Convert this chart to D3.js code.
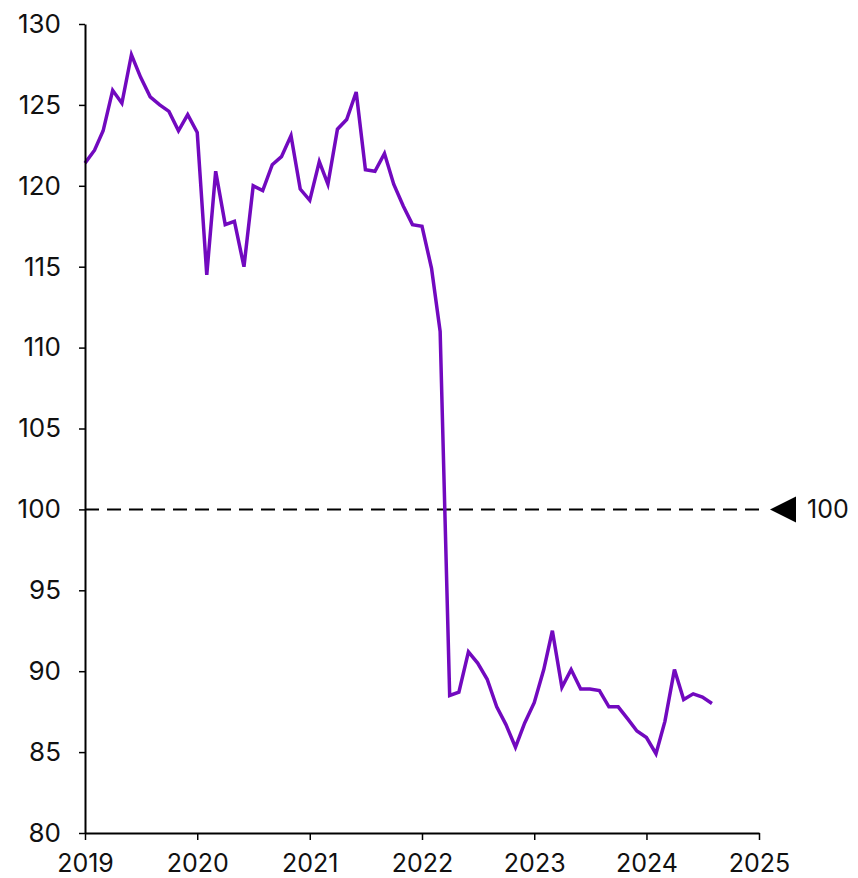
<!DOCTYPE html>
<html>
<head>
<meta charset="utf-8">
<script src="https://cdn.jsdelivr.net/npm/d3@7"></script>
<style>
  html, body { margin: 0; padding: 0; background: #fff; }
  svg { display: block; font-family: Inter, "DejaVu Sans", sans-serif; }
</style>
</head>
<body>
<svg id="chart" width="858" height="878"></svg>
<script>
// ---- Data (monthly, Jan 2019 – Aug 2024) ----
const startYear = 2019;
const startMonth = 0; // January
const values = [
  121.4, 122.2, 123.4, 125.9, 125.1, 128.1, 126.7, 125.5, 125.0, 124.6, 123.4, 124.4,
  123.3, 114.5, 120.9, 117.6, 117.8, 115.0, 120.0, 119.7, 121.3, 121.8, 123.1, 119.8,
  119.1, 121.5, 120.1, 123.5, 124.1, 125.8, 121.0, 120.9, 122.0, 120.1, 118.75, 117.6,
  117.5, 114.9, 111.0, 88.5, 88.7, 91.2, 90.5, 89.5, 87.8, 86.7, 85.3, 86.8,
  88.05, 90.1, 92.5, 89.0, 90.1, 88.9, 88.9, 88.8, 87.8, 87.8, 87.05, 86.3,
  85.9, 84.9, 86.9, 90.1, 88.25, 88.6, 88.4, 88.0
];
const yTicks = [80, 85, 90, 95, 100, 105, 110, 115, 120, 125, 130];
const xTickYears = [2019, 2020, 2021, 2022, 2023, 2024, 2025];
const referenceValue = 100;
const referenceLabel = "100";

// ---- Layout ----
const W = 858, H = 878;
const margin = { top: 24, right: 99, bottom: 45, left: 85 };
const svg = d3.select("#chart");

const x = d3.scaleTime()
  .domain([new Date(2019, 0, 1), new Date(2025, 0, 1)])
  .range([margin.left, W - margin.right]);
const y = d3.scaleLinear()
  .domain([80, 130])
  .range([H - margin.bottom, margin.top]);

const data = values.map((v, i) => ({ date: new Date(startYear, startMonth + i, 1), value: v }));

// Reference dashed line
svg.append("line")
  .attr("x1", x.range()[0]).attr("x2", x.range()[1])
  .attr("y1", y(referenceValue)).attr("y2", y(referenceValue))
  .attr("stroke", "#000").attr("stroke-width", 2)
  .attr("stroke-dasharray", "14,8");

// Data line
const line = d3.line().x(d => x(d.date)).y(d => y(d.value));
svg.append("path")
  .datum(data)
  .attr("fill", "none")
  .attr("stroke", "#7209bf")
  .attr("stroke-width", 3.5)
  .attr("stroke-linejoin", "miter")
  .attr("d", line);

// Y axis
const yAxis = svg.append("g")
  .attr("transform", `translate(${margin.left},0)`)
  .call(d3.axisLeft(y).tickValues(yTicks).tickSize(6).tickSizeOuter(0).tickPadding(18));
yAxis.select(".domain").attr("stroke", "#000").attr("stroke-width", 2);
yAxis.selectAll(".tick line").attr("stroke", "#000").attr("stroke-width", 1.5);
yAxis.selectAll(".tick text").attr("font-size", 26).attr("fill", "#111")
  .attr("font-family", "Inter, 'DejaVu Sans', sans-serif");

// X axis
const xAxis = svg.append("g")
  .attr("transform", `translate(0,${H - margin.bottom})`)
  .call(d3.axisBottom(x)
    .tickValues(xTickYears.map(yr => new Date(yr, 0, 1)))
    .tickFormat(d3.timeFormat("%Y"))
    .tickSize(7).tickSizeOuter(0).tickPadding(14));
xAxis.select(".domain").attr("stroke", "#000").attr("stroke-width", 2);
xAxis.selectAll(".tick line").attr("stroke", "#000").attr("stroke-width", 1.5);
xAxis.selectAll(".tick text").attr("font-size", 25).attr("fill", "#111")
  .attr("font-family", "Inter, 'DejaVu Sans', sans-serif");

// Reference marker (left-pointing triangle) + label
const ty = y(referenceValue);
const tipX = x.range()[1] + 11;
svg.append("path")
  .attr("d", `M${tipX},${ty} L${tipX + 26},${ty - 13} L${tipX + 26},${ty + 13} Z`)
  .attr("fill", "#000");
svg.append("text")
  .attr("x", tipX + 37).attr("y", ty)
  .attr("dy", "0.36em")
  .attr("font-size", 25).attr("fill", "#111")
  .text(referenceLabel);
</script>
</body>
</html>
